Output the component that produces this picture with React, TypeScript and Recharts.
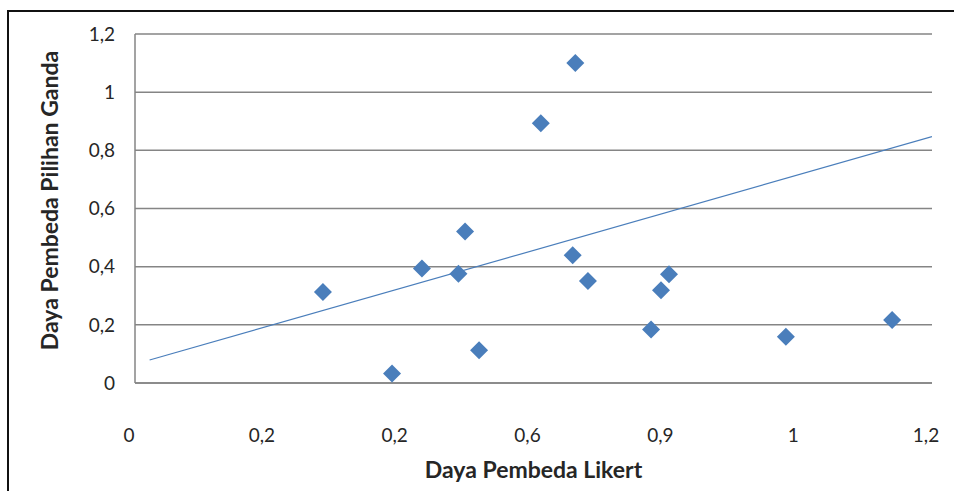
import { ScatterChart, Scatter, XAxis, YAxis, CartesianGrid } from "recharts";

// Daya Pembeda Likert (x) vs Daya Pembeda Pilihan Ganda (y)
const likert = [0.283, 0.387, 0.432, 0.487, 0.497, 0.518, 0.611, 0.663, 0.659, 0.682, 0.777, 0.792, 0.804, 0.980, 1.140];
const pilihanGanda = [0.313, 0.033, 0.394, 0.376, 0.521, 0.113, 0.893, 1.100, 0.439, 0.351, 0.184, 0.319, 0.374, 0.159, 0.217];

// linear trend line endpoints
const trendX = [0.022, 1.2];
const trendY = [0.079, 0.847];

const xTicks = [0, 0.2, 0.4, 0.6, 0.8, 1, 1.2];
const xTickLabels = ["0", "0,2", "0,2", "0,6", "0,9", "1", "1,2"];
const yTicks = [0, 0.2, 0.4, 0.6, 0.8, 1, 1.2];
const yTickLabels = ["0", "0,2", "0,4", "0,6", "0,8", "1", "1,2"];

const points = likert.map((x, i) => ({ x, y: pilihanGanda[i] }));
const trend = trendX.map((x, i) => ({ x, y: trendY[i] }));

const FONT = "Lato, 'Open Sans', sans-serif";
const BLUE = "#4a7ebb";
const GRID = "#858585";
const TEXT = "#262626";

const Diamond = (props: any) => {
  const { cx, cy } = props;
  if (cx == null || cy == null) return null;
  const r = 9;
  return (
    <path
      d={`M${cx},${cy - r} L${cx + r},${cy} L${cx},${cy + r} L${cx - r},${cy} Z`}
      fill={BLUE}
    />
  );
};

const NoDot = () => null;

export default function App() {
  return (
    <div
      style={{
        position: "absolute",
        left: 0,
        top: 0,
        width: 954,
        height: 491,
        background: "#fff",
        fontFamily: FONT,
      }}
    >
      {/* frame: top and left edges only */}
      <div style={{ position: "absolute", left: 7, top: 10, width: 947, height: 2, background: "#111" }} />
      <div style={{ position: "absolute", left: 7, top: 10, width: 2, height: 481, background: "#111" }} />

      <ScatterChart
        width={954}
        height={491}
        margin={{ top: 34, right: 22, bottom: 0, left: 0 }}
      >
        <CartesianGrid vertical={false} stroke={GRID} strokeWidth={1.5} />
        <XAxis
          type="number"
          dataKey="x"
          domain={[0, 1.2]}
          ticks={xTicks}
          tickFormatter={(v: number) => xTickLabels[xTicks.indexOf(v)] ?? String(v)}
          height={108}
          tickSize={0}
          tickMargin={46}
          axisLine={{ stroke: GRID, strokeWidth: 1.5 }}
          tickLine={false}
          tick={{ fill: TEXT, fontSize: 19, fontFamily: FONT, dx: -6 }}
          label={{
            value: "Daya Pembeda Likert",
            position: "insideBottom",
            offset: 13,
            fill: TEXT,
            fontSize: 23,
            fontWeight: "bold",
            fontFamily: FONT,
          }}
          allowDataOverflow
        />
        <YAxis
          type="number"
          dataKey="y"
          domain={[0, 1.2]}
          ticks={yTicks}
          tickFormatter={(v: number) => yTickLabels[yTicks.indexOf(v)] ?? String(v)}
          width={135}
          tickSize={0}
          tickMargin={20}
          axisLine={{ stroke: GRID, strokeWidth: 1.5 }}
          tickLine={false}
          tick={{ fill: TEXT, fontSize: 19, fontFamily: FONT }}
          label={{
            value: "Daya Pembeda Pilihan Ganda",
            angle: -90,
            position: "insideLeft",
            offset: 50,
            dy: -8,
            style: { textAnchor: "middle" },
            fill: TEXT,
            fontSize: 23,
            fontWeight: "bold",
            fontFamily: FONT,
          }}
          allowDataOverflow
        />
        <Scatter
          data={trend}
          line={{ stroke: BLUE, strokeWidth: 1.2 }}
          shape={NoDot}
          isAnimationActive={false}
        />
        <Scatter data={points} shape={Diamond} isAnimationActive={false} />
      </ScatterChart>
    </div>
  );
}
